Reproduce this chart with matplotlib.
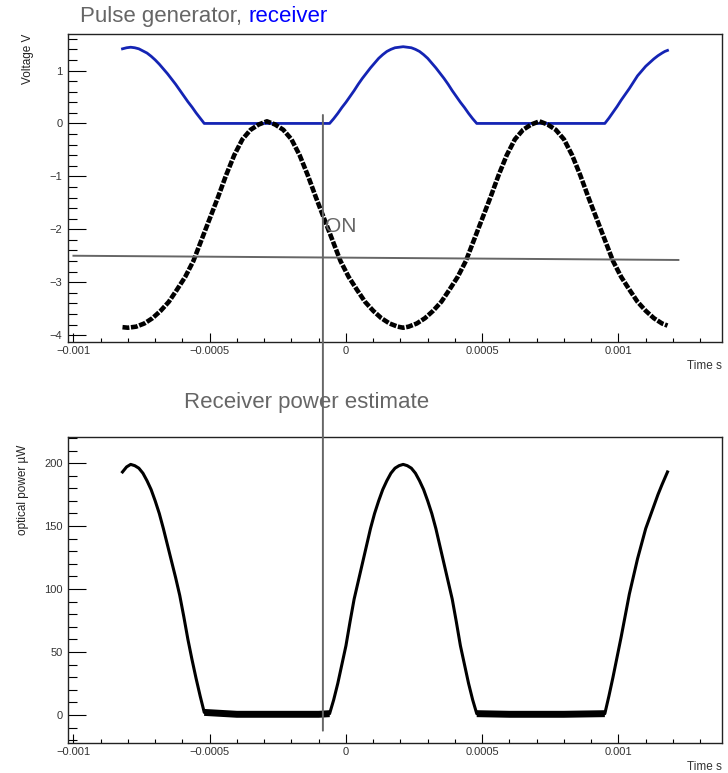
import numpy as np
import matplotlib
matplotlib.use("Agg")
import matplotlib.pyplot as plt
from matplotlib.ticker import MultipleLocator, FuncFormatter
from matplotlib.patches import ConnectionPatch

plt.rcParams['font.family'] = ['Liberation Sans', 'DejaVu Sans']

# ---------------- data ----------------
# Pulse generator (black), top panel
t_gen = [-0.00082, -0.00080, -0.00077, -0.00074, -0.00071, -0.00068, -0.00065,
         -0.00062, -0.00059, -0.00056, -0.00053, -0.00050, -0.00047, -0.00044,
         -0.00041, -0.00038, -0.00035, -0.00032, -0.00029, -0.00026, -0.00023,
         -0.00020, -0.00017, -0.00014, -0.00011, -0.00008, -0.00005, -0.00002,
         0.00001, 0.00004, 0.00007, 0.00010, 0.00013, 0.00016, 0.00019, 0.00021,
         0.00023, 0.00026, 0.00029, 0.00032, 0.00035, 0.00038, 0.00041, 0.00044,
         0.00047, 0.00050, 0.00053, 0.00056, 0.00059, 0.00062, 0.00065, 0.00068,
         0.00071, 0.00074, 0.00077, 0.00080, 0.00083, 0.00086, 0.00089, 0.00092,
         0.00095, 0.00098, 0.00101, 0.00104, 0.00107, 0.00110, 0.00113, 0.00116,
         0.00118]
v_gen = [-3.85, -3.86, -3.84, -3.78, -3.68, -3.54, -3.37,
         -3.14, -2.90, -2.60, -2.20, -1.80, -1.40, -0.98,
         -0.60, -0.30, -0.12, -0.02, 0.04, -0.02, -0.12,
         -0.30, -0.60, -0.98, -1.40, -1.80, -2.20, -2.60,
         -2.90, -3.14, -3.37, -3.54, -3.68, -3.78, -3.84, -3.86,
         -3.84, -3.78, -3.68, -3.54, -3.37, -3.14, -2.90, -2.60,
         -2.20, -1.80, -1.40, -0.98, -0.60, -0.30, -0.12, -0.02,
         0.04, -0.02, -0.12, -0.30, -0.60, -0.98, -1.40, -1.80,
         -2.20, -2.60, -2.90, -3.14, -3.37, -3.54, -3.68, -3.78,
         -3.82]

# Receiver (blue), top panel
t_rec = [-0.00082, -0.000805, -0.00079, -0.000775, -0.00076, -0.000745, -0.00073,
         -0.000715, -0.0007, -0.000685, -0.00067, -0.000655, -0.00064, -0.000625,
         -0.00061, -0.000595, -0.00058, -0.000565, -0.00055, -0.000535, -0.00052,
         -0.0004, -0.0003, -0.0002, -0.0001, -0.00006, -0.000045, -0.00003,
         -0.000015, 0.0, 0.000015, 0.00003, 0.000045, 0.00006, 0.000075, 0.00009,
         0.000105, 0.00012, 0.000135, 0.00015, 0.000165, 0.00018, 0.000195,
         0.00021, 0.000225, 0.00024, 0.000255, 0.00027, 0.000285, 0.0003,
         0.000315, 0.00033, 0.000345, 0.00036, 0.000375, 0.00039, 0.000405,
         0.00042, 0.000435, 0.00045, 0.000465, 0.00048, 0.0006, 0.0007, 0.0008,
         0.00095, 0.000965, 0.00098, 0.000995, 0.00101, 0.001025, 0.00104,
         0.001055, 0.00107, 0.001085, 0.0011, 0.001115, 0.00113, 0.001145,
         0.00116, 0.00117, 0.00118]
v_rec = [1.41, 1.43, 1.44, 1.43, 1.41, 1.37, 1.33,
         1.27, 1.20, 1.12, 1.03, 0.94, 0.84, 0.74,
         0.63, 0.52, 0.41, 0.31, 0.20, 0.10, 0.0,
         0.0, 0.0, 0.0, 0.0, 0.0, 0.09, 0.19,
         0.30, 0.40, 0.51, 0.62, 0.74, 0.85, 0.95, 1.05,
         1.14, 1.23, 1.30, 1.36, 1.40, 1.43, 1.44,
         1.45, 1.44, 1.43, 1.40, 1.36, 1.30, 1.23,
         1.14, 1.05, 0.95, 0.85, 0.74, 0.62, 0.51,
         0.40, 0.30, 0.19, 0.09, 0.0, 0.0, 0.0, 0.0,
         0.0, 0.10, 0.21, 0.32, 0.44, 0.55, 0.66,
         0.78, 0.90, 0.99, 1.08, 1.15, 1.22, 1.28,
         1.33, 1.36, 1.38]

# Receiver optical power (bottom panel)
t_pow = [-0.00082, -0.000805, -0.00079, -0.000775, -0.00076, -0.000745, -0.00073,
         -0.000715, -0.0007, -0.000685, -0.00067, -0.000655, -0.00064, -0.000625,
         -0.00061, -0.000595, -0.00058, -0.000565, -0.00055, -0.000535, -0.00052,
         -0.0004, -0.0003, -0.0002, -0.0001, -0.00006, -0.000045, -0.00003,
         -0.000015, 0.0, 0.000015, 0.00003, 0.000045, 0.00006, 0.000075, 0.00009,
         0.000105, 0.00012, 0.000135, 0.00015, 0.000165, 0.00018, 0.000195,
         0.00021, 0.000225, 0.00024, 0.000255, 0.00027, 0.000285, 0.0003,
         0.000315, 0.00033, 0.000345, 0.00036, 0.000375, 0.00039, 0.000405,
         0.00042, 0.000435, 0.00045, 0.000465, 0.00048, 0.0006, 0.0007, 0.0008,
         0.00095, 0.000965, 0.00098, 0.000995, 0.00101, 0.001025, 0.00104,
         0.001055, 0.00107, 0.001085, 0.0011, 0.001115, 0.00113, 0.001145,
         0.00116, 0.00118]
p_pow = [193, 197, 199, 198, 196, 192, 186,
         179, 170, 160, 148, 135, 122, 109,
         95, 78, 60, 44, 29, 15, 2,
         0.5, 0.5, 0.5, 0.5, 1, 12, 25,
         40, 55, 74, 92, 106, 120, 134, 148,
         160, 170, 179, 186, 192, 196, 198,
         199, 198, 196, 192, 186, 179, 170,
         160, 148, 134, 120, 106, 92, 74,
         55, 40, 25, 12, 1, 0.5, 0.5, 0.5,
         1, 15, 30, 46, 62, 79, 96,
         110, 124, 136, 148, 157, 166, 175,
         183, 193]

# Annotation lines
t_on = -0.0000846
hline_t = [-0.001, 0.00122]
hline_v = [-2.50, -2.58]
on_top_v = 0.16
on_bottom_p = -12.5

title_top = "Pulse generator, "
title_top_blue = "receiver"
title_bottom = "Receiver power estimate"

# ---------------- figure ----------------
W, H = 728, 773
fig = plt.figure(figsize=(W / 100, H / 100), dpi=100)
ax1 = fig.add_axes([68 / W, 1 - 342 / H, 654 / W, 308 / H])
ax2 = fig.add_axes([68 / W, 1 - 743 / H, 654 / W, 306.3 / H])

gray = '#666666'
tickcol = '#333333'


def tfmt(x, pos):
    if abs(x) < 1e-12:
        return '0'
    return ('%g' % x).replace('-', '\u2212')


def yfmt(x, pos):
    if abs(x) < 1e-9:
        return '0'
    return ('%g' % x).replace('-', '\u2212')


for ax in (ax1, ax2):
    ax.set_xlim(-0.00102, 0.00138)
    ax.xaxis.set_major_locator(MultipleLocator(0.0005))
    ax.xaxis.set_minor_locator(MultipleLocator(0.0001))
    ax.xaxis.set_major_formatter(FuncFormatter(tfmt))
    ax.tick_params(axis='x', which='major', direction='in', length=6.5, width=0.8,
                   labelsize=8, labelcolor=tickcol, pad=3)
    ax.tick_params(axis='x', which='minor', direction='in', length=3.2, width=0.8)
    ax.tick_params(axis='y', which='major', direction='in', length=13, width=0.8,
                   labelsize=8, labelcolor=tickcol, pad=4)
    ax.tick_params(axis='y', which='minor', direction='in', length=6.5, width=0.8)
    ax.tick_params(top=False, right=False, which='both')
    for s in ax.spines.values():
        s.set_linewidth(1.0)
        s.set_color('#222222')
    ax.text(1.0, -0.078, 'Time s', transform=ax.transAxes, ha='right', va='center',
            fontsize=8.5, color=tickcol)

ax1.set_ylim(-4.13, 1.69)
ax1.yaxis.set_major_locator(MultipleLocator(1))
ax1.yaxis.set_minor_locator(MultipleLocator(0.2))
ax1.yaxis.set_major_formatter(FuncFormatter(yfmt))

ax2.set_ylim(-22.3, 221)
ax2.yaxis.set_major_locator(MultipleLocator(50))
ax2.yaxis.set_minor_locator(MultipleLocator(10))
ax2.yaxis.set_major_formatter(FuncFormatter(yfmt))

# curves
ax1.plot(t_rec, v_rec, color='#1424b4', lw=2.0, solid_joinstyle='round')
ax1.plot(t_gen, v_gen, color='black', lw=3.3, linestyle=(0, (1.5, 0.35)),
         dash_capstyle='butt')
ax1.plot(hline_t, hline_v, color=gray, lw=1.4)
ax1.text(-0.0000765, -2.045, 'ON', fontsize=15, color=gray, ha='left', va='baseline')

p_arr = np.array(p_pow, dtype=float)
ax2.plot(t_pow, p_arr, color='black', lw=2.2, solid_joinstyle='round')
flat = np.where(p_arr <= 2, p_arr, np.nan)
ax2.plot(t_pow, flat, color='black', lw=5, solid_capstyle='butt')

# axis titles
ax1.text(-0.061, 1.0, 'Voltage V', transform=ax1.transAxes, rotation=90,
         ha='center', va='top', fontsize=8.5, color='#222222')
ax2.text(-0.069, 0.973, 'optical power \u00b5W', transform=ax2.transAxes, rotation=90,
         ha='center', va='top', fontsize=8.5, color='#222222')

# panel titles
t1 = fig.text(80 / W, 1 - 21.7 / H, title_top, fontsize=16, color=gray,
              ha='left', va='baseline')
fig.canvas.draw()
ax1.annotate(title_top_blue, xy=(1, 0), xycoords=t1, ha='left', va='bottom',
             fontsize=16, color='#0000ff', annotation_clip=False)
fig.text(306.5 / W, 1 - 408.3 / H, title_bottom, fontsize=16, color=gray,
         ha='center', va='baseline')

# vertical "ON" line spanning both panels
con = ConnectionPatch(xyA=(t_on, on_top_v), coordsA=ax1.transData,
                      xyB=(t_on, on_bottom_p), coordsB=ax2.transData,
                      color=gray, lw=1.4)
fig.add_artist(con)

fig.savefig('out.png', dpi=100)
